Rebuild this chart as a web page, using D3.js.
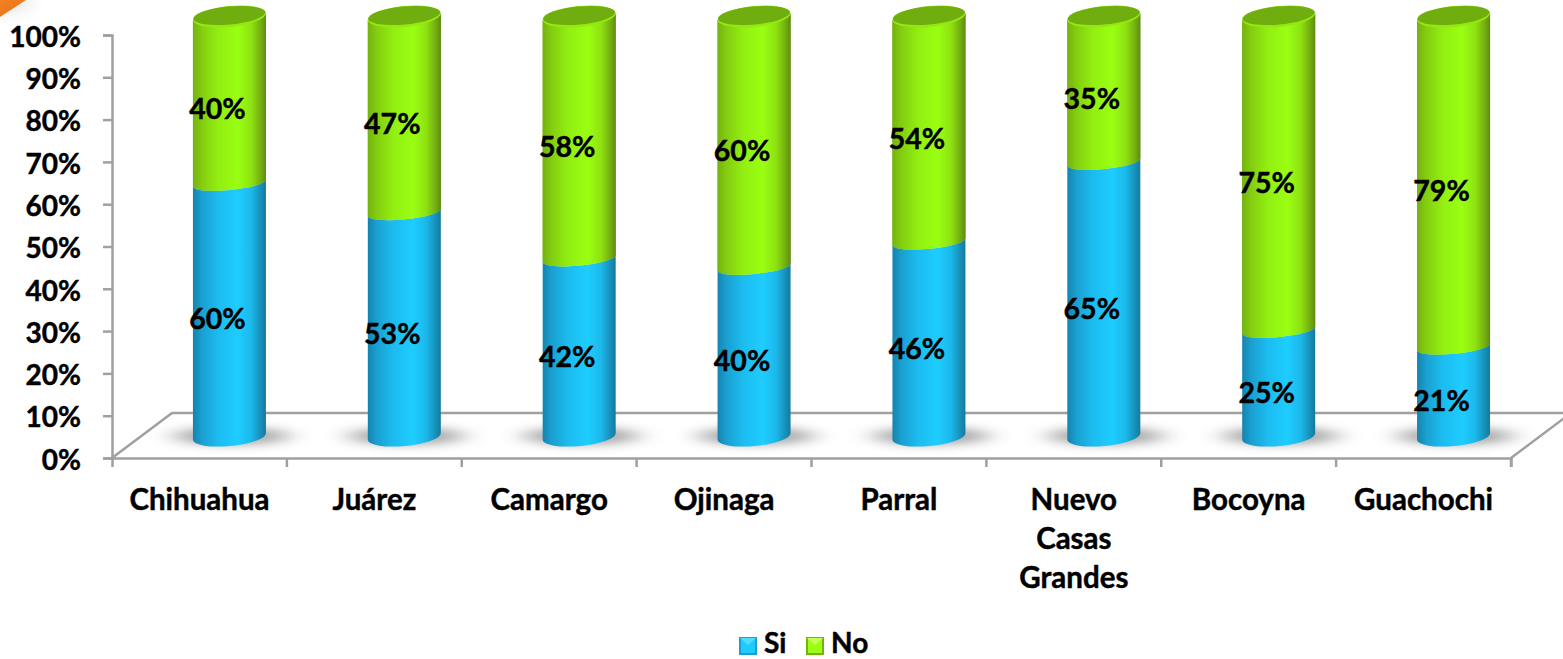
<!DOCTYPE html>
<html>
<head>
<meta charset="utf-8">
<script src="https://cdn.jsdelivr.net/npm/d3@7"></script>
<style>
  html, body { margin: 0; padding: 0; background: #fff; overflow: hidden; }
  text { font-family: Lato, "Open Sans", sans-serif; font-weight: 700; fill: #000; stroke: #000; stroke-width: 0.45px; }
  .axis path, .axis line, .floor { stroke: #a0a0a0; stroke-width: 2.5px; fill: none; }
</style>
</head>
<body>
<svg id="chart" width="1563" height="659"></svg>
<script>
const categories = ['Chihuahua', 'Juárez', 'Camargo', 'Ojinaga', 'Parral', 'Nuevo Casas Grandes', 'Bocoyna', 'Guachochi']
const si = [60, 53, 42, 40, 46, 65, 25, 21]
const no = [40, 47, 58, 60, 54, 35, 75, 79]
const seriesNames = ['Si', 'No']
const yTicks = [0, 10, 20, 30, 40, 50, 60, 70, 80, 90, 100]

const svg = d3.select('#chart')
const defs = svg.append('defs')

// plot box, the floor is pushed back by depthX / depthY
const plot = {left: 112, right: 1511, top: 35, bottom: 458}
const depthX = 60, depthY = 45
const barW = 73, ry = 9.5, ryInner = 7, tilt = 3.5
const capShift = 1.5

const x = d3.scaleBand().domain(categories).range([plot.left, plot.right])
const y = d3.scaleLinear().domain([0, 100]).range([plot.bottom, plot.top])
// cylinders stand on the floor so they get their own vertical scale
const yBar = d3.scaleLinear().domain([0, 100]).range([435, 15])
const barX = d => x(d) + x.bandwidth() / 2 + 30

const rows = categories.map((c, i) => ({cat: c, Si: si[i], No: no[i]}))
const stacked = d3.stack().keys(seriesNames)(rows)

function sideGradient (id, stops) {
  let g = defs.append('linearGradient').attr('id', id)
  stops.forEach(s => g.append('stop').attr('offset', s[0]).attr('stop-color', s[1]))
}
sideGradient('gradSi', [[0, '#1583ad'], [0.12, '#1a9fd0'], [0.35, '#1cbcf0'], [0.62, '#1ecdff'], [0.8, '#1cb8ea'], [0.93, '#178fb8'], [1, '#137a9e']])
sideGradient('gradNo', [[0, '#74b30f'], [0.12, '#84cc10'], [0.35, '#92ef11'], [0.62, '#9aff12'], [0.8, '#8ee211'], [0.93, '#74ad10'], [1, '#5f8c10']])

let blur = defs.append('filter').attr('id', 'soft')
    .attr('x', '-40%').attr('y', '-150%').attr('width', '180%').attr('height', '400%')
blur.append('feGaussianBlur').attr('stdDeviation', '13 5')

let lg = defs.append('linearGradient').attr('id', 'corner').attr('x1', 0).attr('y1', 0).attr('x2', 1).attr('y2', 1)
lg.append('stop').attr('offset', 0).attr('stop-color', '#f58220')
lg.append('stop').attr('offset', 1).attr('stop-color', '#e0701a')

// orange corner of the slide
svg.append('path').attr('d', 'M0,0H29L0,20Z').attr('fill', '#888').attr('opacity', 0.35).attr('filter', 'url(#soft)')
svg.append('path').attr('d', 'M0,0H26L0,17Z').attr('fill', 'url(#corner)')

// floor outline
svg.append('path').attr('class', 'floor')
    .attr('d', d3.line()([
      [plot.left, plot.bottom],
      [plot.left + depthX, plot.bottom - depthY],
      [plot.right + depthX, plot.bottom - depthY],
      [plot.right, plot.bottom]
    ]))

// axes
let yAxis = d3.axisLeft(y).tickValues(yTicks).tickFormat(d => d + '%').tickSize(9).tickSizeOuter(9)
let gy = svg.append('g').attr('class', 'axis')
    .attr('transform', 'translate(' + plot.left + ',0)')
    .call(yAxis)
gy.selectAll('text').attr('x', -31).attr('dy', '0.4em')
    .style('font-size', '28px')

let xAxis = d3.axisBottom(x).tickSize(0).tickSizeOuter(9)
let gx = svg.append('g').attr('class', 'axis')
    .attr('transform', 'translate(0,' + plot.bottom + ')')
    .call(xAxis)
gx.selectAll('.tick text').each(function (d) {
  let t = d3.select(this).text(null).style('font-size', '29.5px').attr('y', 0).attr('dy', null)
  d.split(' ').forEach((w, i) => {
    t.append('tspan').attr('x', 0).attr('y', 52 + i * 39).text(w)
  })
})
// ticks sit between the categories
gx.selectAll('.sep')
    .data(categories)
  .enter().append('line')
    .attr('x1', d => x(d) + x.bandwidth())
    .attr('x2', d => x(d) + x.bandwidth())
    .attr('y1', 0)
    .attr('y2', 9)

// shadows under each cylinder
svg.append('g').selectAll('ellipse')
    .data(categories)
  .enter().append('ellipse')
    .attr('cx', d => barX(d) + 2)
    .attr('cy', yBar(0) + 1)
    .attr('rx', 58)
    .attr('ry', 9)
    .attr('fill', '#6e6e6e')
    .attr('opacity', 0.6)
    .attr('filter', 'url(#soft)')

// side of a cylinder, the ends at 0 and 100 sit a bit lower and curve deeper than the inner join
function segment (cx, v0, v1) {
  let l = cx - barW / 2, r = cx + barW / 2
  let rx = Math.hypot(barW, tilt * 2) / 2
  let rot = -Math.atan2(tilt * 2, barW) * 180 / Math.PI
  let y0 = yBar(v0) + (v0 === 0 ? capShift : 0)
  let y1 = yBar(v1) + (v1 === 100 ? capShift : 0)
  let ry0 = v0 === 0 ? ry : ryInner
  let ry1 = v1 === 100 ? ry : ryInner
  return 'M' + l + ',' + (y0 + tilt) +
    'A' + rx + ',' + ry0 + ' ' + rot + ' 0 0 ' + r + ',' + (y0 - tilt) +
    'L' + r + ',' + (y1 - tilt) +
    'A' + rx + ',' + ry1 + ' ' + rot + ' 0 1 ' + l + ',' + (y1 + tilt) + 'Z'
}

// No first so the blue top edge reads over it
let layers = svg.append('g').selectAll('g')
    .data(stacked.slice().reverse())
  .enter().append('g')
    .attr('fill', d => 'url(#grad' + d.key + ')')
layers.selectAll('path')
    .data(d => d)
  .enter().append('path')
    .attr('d', d => segment(barX(d.data.cat), d[0], d[1]))

// green drawn over blue along the curved boundary
svg.append('g').selectAll('path')
    .data(stacked[1])
  .enter().append('path')
    .attr('fill', 'url(#gradNo)')
    .attr('d', d => segment(barX(d.data.cat), d[0], d[1]))

// top caps
let caps = svg.append('g').selectAll('g')
    .data(categories)
  .enter().append('g')
    .attr('transform', d => 'translate(' + barX(d) + ',' + (yBar(100) + capShift) + ') rotate(' + (-Math.atan2(tilt * 2, barW) * 180 / Math.PI) + ')')
caps.append('ellipse')
    .attr('rx', Math.hypot(barW, tilt * 2) / 2)
    .attr('ry', ry + 1)
    .attr('fill', '#92e810')
caps.append('ellipse')
    .attr('rx', Math.hypot(barW, tilt * 2) / 2 - 0.5)
    .attr('ry', ry - 0.5)
    .attr('cy', -1)
    .attr('fill', '#70ae10')

// data labels
let labels = svg.append('g')
stacked.forEach(s => {
  labels.selectAll('.l' + s.key)
      .data(s)
    .enter().append('text')
      .attr('class', 'l' + s.key)
      .attr('x', d => barX(d.data.cat) - 12)
      .attr('y', d => yBar((d[0] + d[1]) / 2) + 10)
      .attr('dy', '0.36em')
      .attr('text-anchor', 'middle')
      .style('font-size', '28.5px')
      .text(d => (d[1] - d[0]) + '%')
})

// legend
const legendColors = {Si: ['#1a9fd0', '#1ecbff', '#4fdcff'], No: ['#74b30f', '#9aff12', '#c8ff55']}
let legend = svg.append('g')
let item = legend.selectAll('g')
    .data(seriesNames)
  .enter().append('g')
    .attr('transform', (d, i) => 'translate(' + (739 + i * 67) + ',637)')
item.append('rect').attr('width', 18).attr('height', 18).attr('fill', d => legendColors[d][0])
item.append('rect').attr('x', 2).attr('y', 2).attr('width', 14).attr('height', 14).attr('fill', d => legendColors[d][1])
item.append('path').attr('d', 'M1,1H17L9,8Z').attr('fill', d => legendColors[d][2])
item.append('text')
    .attr('x', 25)
    .attr('y', 16)
    .style('font-size', '28px')
    .text(d => d)
</script>
</body>
</html>
